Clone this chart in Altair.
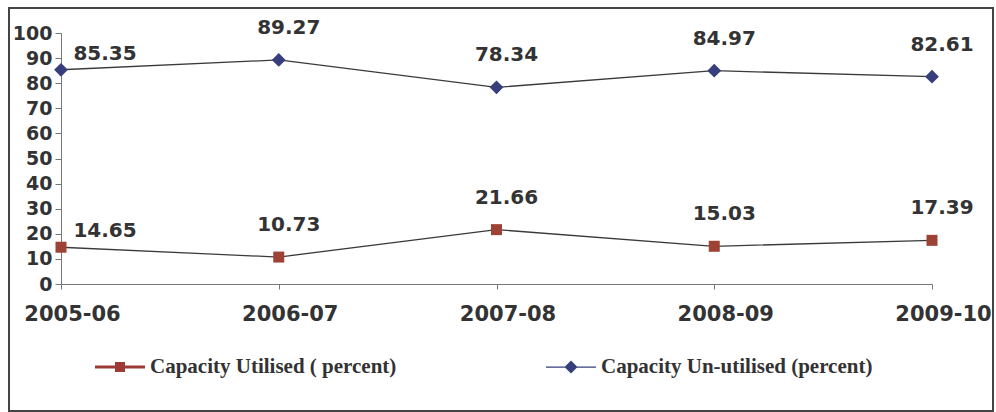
import altair as alt
import pandas as pd

years = ["2005-06", "2006-07", "2007-08", "2008-09", "2009-10"]
utilised = [14.65, 10.73, 21.66, 15.03, 17.39]
unutilised = [85.35, 89.27, 78.34, 84.97, 82.61]
series_names = ["Capacity Utilised ( percent)", "Capacity Un-utilised (percent)"]
y_ticks = [0, 10, 20, 30, 40, 50, 60, 70, 80, 90, 100]

rows = []
for name, vals in zip(series_names, [utilised, unutilised]):
    for yr, v in zip(years, vals):
        rows.append({"year": yr, "value": v, "series": name})
df = pd.DataFrame(rows)

W, H = 871, 251
NUM_FONT = "DejaVu Sans"
TXT = "#333333"

x_enc = alt.X(
    "year:N", sort=years,
    scale=alt.Scale(type="point", padding=0),
    axis=alt.Axis(title=None, labelAngle=0, labelFont=NUM_FONT, labelFontWeight="bold",
                  labelFontSize=21, labelColor=TXT, labelOffset=11, labelPadding=14,
                  tickSize=5, tickColor="#777777", domainColor="#777777", grid=False),
)
y_enc = alt.Y(
    "value:Q", scale=alt.Scale(domain=[0, 100], nice=False),
    axis=alt.Axis(title=None, values=y_ticks, labelFont=NUM_FONT, labelFontWeight="bold",
                  labelFontSize=19, labelColor=TXT, labelPadding=3, tickSize=6,
                  tickColor="#777777", domainColor="#777777", grid=False),
)

base = alt.Chart(df).encode(x=x_enc, y=y_enc)

lines = base.mark_line(color="#3a3a3a", strokeWidth=1.3).encode(detail="series:N")

points = base.mark_point(filled=True, opacity=1).encode(
    shape=alt.Shape("series:N", scale=alt.Scale(domain=series_names, range=["square", "diamond"]), legend=None),
    color=alt.Color("series:N", scale=alt.Scale(domain=series_names, range=["#9e4236", "#363e7c"]), legend=None),
    size=alt.Size("series:N", scale=alt.Scale(domain=series_names, range=[121, 190]), legend=None),
)

first_labels = base.transform_filter(alt.datum.year == years[0]).mark_text(
    font=NUM_FONT, fontWeight="bold", fontSize=20, color=TXT, dx=44, dy=-16
).encode(text=alt.Text("value:Q", format=".2f"))

other_labels = base.transform_filter(alt.datum.year != years[0]).mark_text(
    font=NUM_FONT, fontWeight="bold", fontSize=20, color=TXT, dx=10, dy=-32
).encode(text=alt.Text("value:Q", format=".2f"))

sym_util = "M-1,-0.06L1,-0.06L1,0.06L-1,0.06Z M-0.2,-0.2L0.2,-0.2L0.2,0.2L-0.2,0.2Z"
sym_unutil = "M-1,-0.025L1,-0.025L1,0.025L-1,0.025Z M0,-0.26L0.26,0L0,0.26L-0.26,0Z"
leg = alt.Legend(
    title=None, orient="none", legendX=34, legendY=309, direction="horizontal",
    symbolSize=2500, symbolOpacity=1, symbolStrokeWidth=0,
    labelFont="Liberation Serif", labelFontWeight="bold", labelFontSize=21,
    labelColor=TXT, labelOffset=5, columnPadding=149, labelLimit=400,
)
legend_layer = base.mark_point(filled=True, opacity=0).encode(
    shape=alt.Shape("series:N", scale=alt.Scale(domain=series_names, range=[sym_util, sym_unutil]), legend=leg),
    color=alt.Color("series:N", scale=alt.Scale(domain=series_names, range=["#9e3a36", "#363e7c"]), legend=leg),
)

frame = alt.Chart(alt.Data(values=[{}])).mark_rect(
    fillOpacity=0, stroke="#444444", strokeWidth=2
).encode(x=alt.value(-52), x2=alt.value(932), y=alt.value(-25), y2=alt.value(378))

chart = alt.layer(frame, lines, points, first_labels, other_labels, legend_layer).resolve_scale(
    shape="independent", color="independent", size="independent"
).properties(
    width=W, height=H,
    padding={"left": 61, "top": 33, "right": 64, "bottom": 128},
    autosize=alt.AutoSizeParams(type="none"),
    background="white",
).configure_view(strokeWidth=0)

chart.save("out.html", embed_options={"renderer": "svg", "actions": False})
